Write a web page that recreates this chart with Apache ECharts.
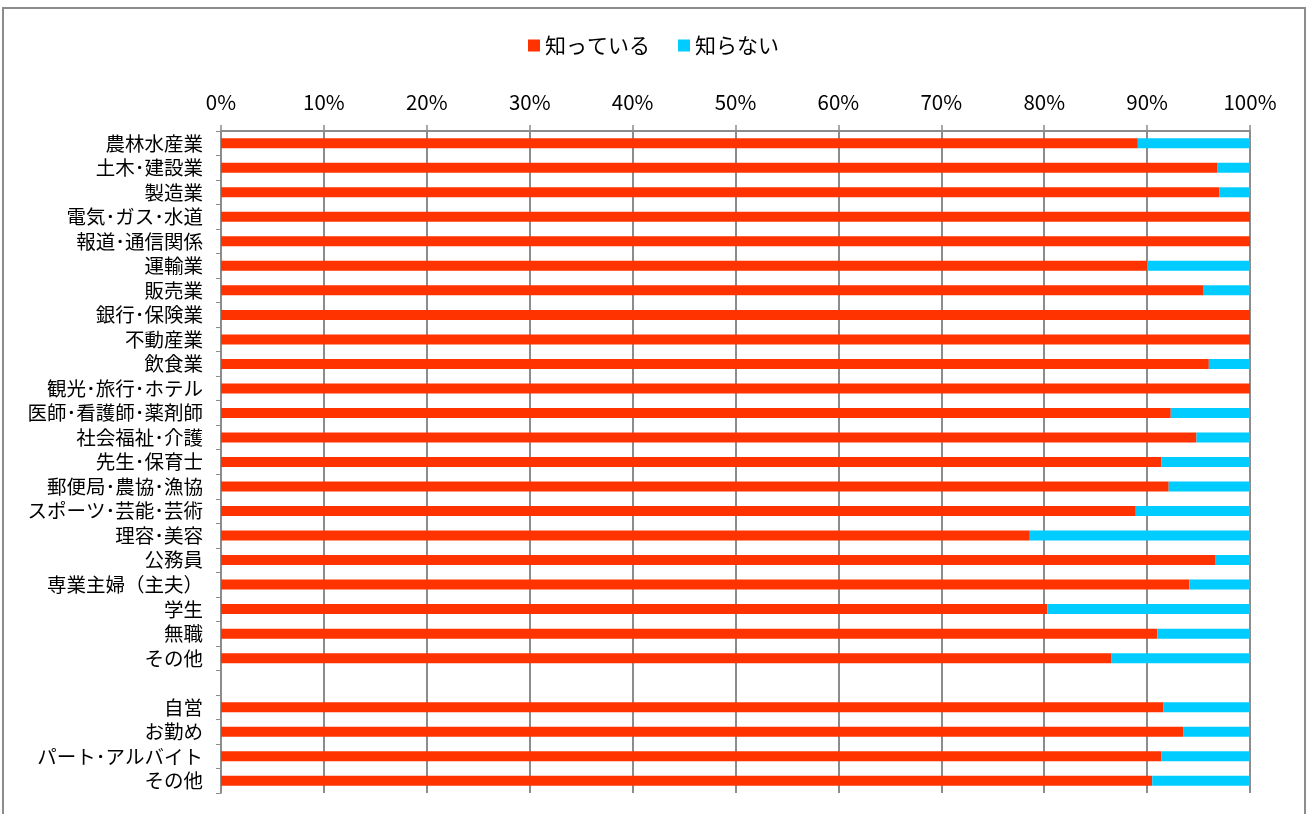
<!DOCTYPE html>
<html><head><meta charset="utf-8">
<script src="https://cdn.jsdelivr.net/npm/echarts@6/dist/echarts.min.js"></script>
<style>html,body{margin:0;padding:0;background:#fff}#c{width:1307px;height:814px}</style>
</head><body><div id="c"></div>
<script>
const categories = ['農林水産業','土木･建設業','製造業','電気･ガス･水道','報道･通信関係','運輸業','販売業','銀行･保険業','不動産業','飲食業','観光･旅行･ホテル','医師･看護師･薬剤師','社会福祉･介護','先生･保育士','郵便局･農協･漁協','スポーツ･芸能･芸術','理容･美容','公務員','専業主婦（主夫）','学生','無職','その他','','自営','お勤め','パート･アルバイト','その他 '];
const known   = [89.1,96.8,97.0,100,100,90.0,95.5,100,100,96.0,100,92.3,94.8,91.4,92.1,88.9,78.6,96.6,94.1,80.3,91.0,86.5,null,91.6,93.5,91.4,90.5];
const unknown = [10.9,3.2,3.0,0,0,10.0,4.5,0,0,4.0,0,7.7,5.2,8.6,7.9,11.1,21.4,3.4,5.9,19.7,9.0,13.5,null,8.4,6.5,8.6,9.5];
const tickLabels = ['0%','10%','20%','30%','40%','50%','60%','70%','80%','90%','100%'];
const seriesNames = ['知っている','知らない'];

const chart = echarts.init(document.getElementById('c'));
const font = '"Noto Sans CJK JP", "Noto Sans", sans-serif';
chart.setOption({
  animation:false,
  backgroundColor:'#fff',
  graphic:[{type:'rect',shape:{x:3,y:8,width:1302,height:820},style:{fill:'none',stroke:'#8c8c8c',lineWidth:2},silent:true}],
  legend:{top:30,left:'center',itemWidth:12,itemHeight:12,itemGap:28,
    textStyle:{fontFamily:font,fontSize:21,color:'#000'},
    data:seriesNames, icon:'rect'},
  grid:{left:221,right:57,top:131,bottom:21,containLabel:false},
  xAxis:{type:'value',position:'top',min:0,max:100,interval:10,
    axisLabel:{margin:19,fontFamily:font,fontSize:20.5,color:'#000',formatter:v=>tickLabels[Math.round(v/10)]},
    axisLine:{show:true,lineStyle:{color:'#8c8c8c',width:2}},
    axisTick:{show:true,length:6,lineStyle:{color:'#8c8c8c',width:1.5}},
    splitLine:{show:true,lineStyle:{color:'#8c8c8c',width:2}}},
  yAxis:{type:'category',inverse:true,data:categories,
    axisLabel:{interval:0,margin:18,fontFamily:font,fontSize:19.5,color:'#000',formatter:v=>v.trim()},
    axisLine:{show:true,lineStyle:{color:'#8c8c8c',width:1.5}},
    axisTick:{show:true,interval:0,length:5,alignWithLabel:false,lineStyle:{color:'#8c8c8c'}},
    splitLine:{show:false}},
  series:[
    {name:seriesNames[0],type:'bar',stack:'a',data:known,barWidth:10,itemStyle:{color:'#FF3300'}},
    {name:seriesNames[1],type:'bar',stack:'a',data:unknown,barWidth:10,itemStyle:{color:'#00CCFF'}}
  ]
});
</script></body></html>
